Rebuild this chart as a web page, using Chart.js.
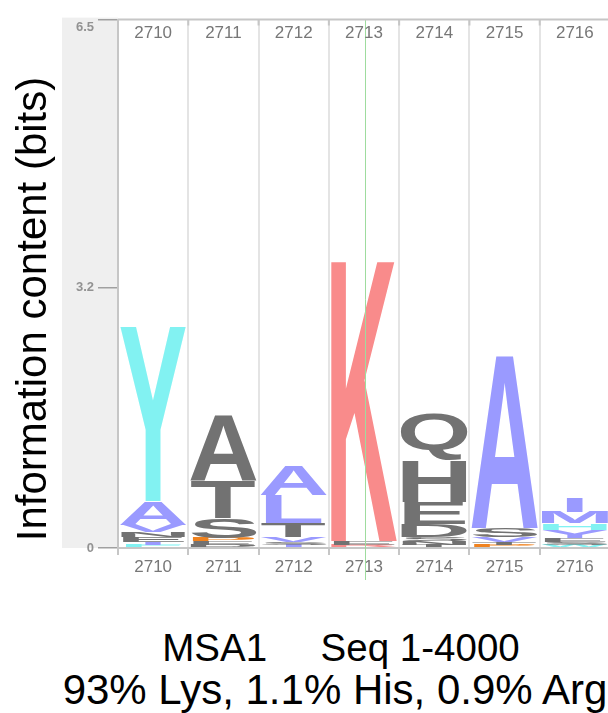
<!DOCTYPE html>
<html>
<head>
<meta charset="utf-8">
<script src="https://cdn.jsdelivr.net/npm/chart.js@4.4.1/dist/chart.umd.min.js"></script>
<style>
    html, body { margin: 0; padding: 0; background: #fff; overflow: hidden; }
    #wrap { position: relative; width: 608px; height: 713px; overflow: hidden; }
    #chartLogo { position: absolute; left: 0; top: 0; }
    .caption {
        position: absolute;
        width: 600px;
        text-align: center;
        font-family: 'Liberation Sans', Arial, sans-serif;
        line-height: 1;
        color: #000;
        white-space: pre;
    }
</style>
</head>
<body>
<div id="wrap">
    <canvas id="chartLogo" width="620" height="590"></canvas>
    <div class="caption" style="left: 41px; top: 629px; font-size: 38.5px">MSA1     Seq 1-4000</div>
    <div class="caption" style="left: 35px; top: 669px; font-size: 42px">93% Lys, 1.1% His, 0.9% Arg</div>
</div>
<script>
const positions = ['2710', '2711', '2712', '2713', '2714', '2715', '2716'];
const yTicks = [0, 3.2, 6.5];
const yTitle = 'Information content (bits)';

// each column: residues from the top of the stack down, their bits and colour class
const residues2710 = ['Y', 'A', 'V', 'N', 'E', 'I', 'F'];
const bits2710 = [2.15, 0.29, 0.085, 0.07, 0.06, 0.035, 0.035];
const classes2710 = ['aro', 'hyd', 'hyd', 'pol', 'pol', 'hyd', 'aro'];

const residues2711 = ['A', 'T', 'S', 'P', 'E', 'D'];
const bits2711 = [0.82, 0.46, 0.24, 0.04, 0.05, 0.035];
const classes2711 = ['pol', 'pol', 'pol', 'gly', 'pol', 'pol'];

const residues2712 = ['A', 'L', 'T', 'V', 'S', 'I'];
const bits2712 = [0.36, 0.34, 0.18, 0.06, 0.035, 0.035];
const classes2712 = ['hyd', 'hyd', 'pol', 'hyd', 'pol', 'hyd'];

const residues2713 = ['K', 'E', 'R'];
const bits2713 = [3.49, 0.05, 0.035];
const classes2713 = ['pos', 'pol', 'pos'];

const residues2714 = ['Q', 'H', 'E', 'D', 'S', 'N', 'T'];
const bits2714 = [0.57, 0.51, 0.27, 0.16, 0.05, 0.05, 0.035];
const classes2714 = ['pol', 'pol', 'pol', 'pol', 'pol', 'pol', 'pol'];

const residues2715 = ['A', 'S', 'V', 'T', 'P'];
const bits2715 = [2.135, 0.11, 0.06, 0.035, 0.035];
const classes2715 = ['hyd', 'pol', 'hyd', 'pol', 'gly'];

const residues2716 = ['I', 'M', 'H', 'Y', 'E', 'S', 'W'];
const bits2716 = [0.18, 0.135, 0.085, 0.1, 0.05, 0.035, 0.035];
const classes2716 = ['hyd', 'hyd', 'aro', 'hyd', 'pol', 'pol', 'aro'];

const palette = {
    hyd: '#9a9aff',
    aro: '#82f2f2',
    pos: '#f98b8b',
    pol: '#727272',
    gly: '#f0821e',
    tick: '#929292',
    label: '#777777',
    grid: '#e4e4e4',
    border: '#c6c6c6',
    panel: '#efefef',
    cursor: '#9edc9e',
};

const columns = [
    { residues: residues2710, bits: bits2710, classes: classes2710 },
    { residues: residues2711, bits: bits2711, classes: classes2711 },
    { residues: residues2712, bits: bits2712, classes: classes2712 },
    { residues: residues2713, bits: bits2713, classes: classes2713 },
    { residues: residues2714, bits: bits2714, classes: classes2714 },
    { residues: residues2715, bits: bits2715, classes: classes2715 },
    { residues: residues2716, bits: bits2716, classes: classes2716 },
];

// stack level 0 is the bottom letter of every column
function levelOf(col, level) {
    const i = col.residues.length - 1 - level;
    return i >= 0 ? i : -1;
}

const depth = Math.max(...columns.map((c) => c.residues.length));
const datasets = [];
for (let level = 0; level < depth; level++) {
    datasets.push({
        data: columns.map((c) => {
            const i = levelOf(c, level);
            return i >= 0 ? c.bits[i] : null;
        }),
        backgroundColor: 'rgba(0, 0, 0, 0)',
        borderWidth: 0,
        barPercentage: 0.95,
        categoryPercentage: 1,
    });
}

function drawGlyph(ctx, ch, color, cx, top, w, h) {
    if (h < 0.5) {
        return;
    }
    ctx.save();
    ctx.font = 'bold 100px "Liberation Sans", Arial, sans-serif';
    ctx.textAlign = 'left';
    ctx.textBaseline = 'alphabetic';
    const m = ctx.measureText(ch);
    const inkW = m.actualBoundingBoxLeft + m.actualBoundingBoxRight;
    const inkH = m.actualBoundingBoxAscent + m.actualBoundingBoxDescent;
    // wide letters fill the column, narrow ones (I, L) keep some of their shape
    const sx = w / Math.max(inkW, 62);
    const sy = h / inkH;
    ctx.translate(cx - (inkW * sx) / 2, top);
    ctx.scale(sx, sy);
    ctx.fillStyle = color;
    ctx.fillText(ch, m.actualBoundingBoxLeft, m.actualBoundingBoxAscent);
    ctx.restore();
}

const panelBackground = {
    id: 'panelBackground',
    beforeDraw(chart) {
        const { ctx, chartArea } = chart;
        ctx.save();
        ctx.fillStyle = palette.panel;
        ctx.fillRect(62, chartArea.top - 2, chartArea.left - 62, chartArea.bottom - chartArea.top + 2);
        ctx.restore();
    },
};

const logoLetters = {
    id: 'logoLetters',
    afterDatasetsDraw(chart) {
        const { ctx, chartArea } = chart;
        chart.data.datasets.forEach((ds, level) => {
            const meta = chart.getDatasetMeta(level);
            meta.data.forEach((bar, j) => {
                const i = levelOf(columns[j], level);
                if (i < 0) {
                    return;
                }
                const { x, y, base, width } = bar.getProps(['x', 'y', 'base', 'width'], true);
                const top = Math.min(y, base);
                const h = Math.abs(base - y);
                drawGlyph(ctx, columns[j].residues[i], palette[columns[j].classes[i]], x, top, width, h);
            });
        });

        // cursor line on the selected column
        const xs = chart.scales.x;
        const cx = Math.round(xs.getPixelForValue(3)) + 1.5;
        ctx.save();
        ctx.strokeStyle = palette.cursor;
        ctx.lineWidth = 1;
        ctx.beginPath();
        ctx.moveTo(cx, chartArea.top);
        ctx.lineTo(cx, chartArea.bottom + 32);
        ctx.stroke();
        ctx.restore();
    },
};

const topRuler = {
    id: 'topRuler',
    afterDraw(chart) {
        const { ctx, chartArea } = chart;
        const xs = chart.scales.x;
        ctx.save();
        ctx.strokeStyle = palette.border;
        ctx.lineWidth = 2;
        ctx.beginPath();
        ctx.moveTo(chartArea.left, chartArea.top);
        ctx.lineTo(chartArea.right, chartArea.top);
        ctx.stroke();

        const step = (chartArea.right - chartArea.left) / positions.length;
        ctx.beginPath();
        for (let k = 0; k <= positions.length; k++) {
            const gx = chartArea.left + k * step;
            ctx.moveTo(gx, chartArea.top);
            ctx.lineTo(gx, chartArea.top + 6);
        }
        ctx.stroke();

        ctx.fillStyle = palette.label;
        ctx.font = '17px "Liberation Sans", Arial, sans-serif';
        ctx.textAlign = 'center';
        ctx.textBaseline = 'middle';
        positions.forEach((p, k) => {
            ctx.fillText(p, xs.getPixelForValue(k), chartArea.top + 14);
        });

        // axis title
        ctx.fillStyle = '#000';
        ctx.font = '42px "Liberation Sans", Arial, sans-serif';
        ctx.textBaseline = 'alphabetic';
        ctx.translate(46, 309);
        ctx.rotate(-Math.PI / 2);
        ctx.fillText(yTitle, 0, 0);
        ctx.restore();
    },
};

new Chart(document.getElementById('chartLogo'), {
    type: 'bar',
    data: {
        labels: positions,
        datasets,
    },
    plugins: [panelBackground, logoLetters, topRuler],
    options: {
        responsive: false,
        animation: false,
        layout: {
            padding: { left: 0, right: 10, top: 16, bottom: 0 },
        },
        plugins: {
            legend: { display: false },
            tooltip: { enabled: false },
        },
        scales: {
            x: {
                stacked: true,
                afterFit: (scale) => { scale.height = 42; },
                ticks: {
                    color: palette.label,
                    font: { family: 'Liberation Sans', size: 17 },
                    padding: 2,
                    maxRotation: 0,
                    autoSkip: false,
                },
                grid: {
                    offset: true,
                    color: palette.grid,
                    lineWidth: 2,
                    drawTicks: true,
                    tickLength: 7,
                    tickColor: palette.border,
                },
                border: { display: true, color: palette.border, width: 2 },
            },
            y: {
                stacked: true,
                min: 0,
                max: 6.5,
                afterBuildTicks: (scale) => {
                    scale.ticks = yTicks.map((v) => ({ value: v }));
                },
                afterFit: (scale) => { scale.width = 118; },
                ticks: {
                    color: palette.tick,
                    font: { family: 'Liberation Sans', size: 13, weight: 'bold' },
                    padding: 4,
                    callback: (v) => (v === 6.5 ? ['', '6.5'] : String(v)),
                },
                grid: {
                    drawOnChartArea: false,
                    drawTicks: true,
                    tickLength: 20,
                    tickColor: '#a0a0a0',
                    lineWidth: 1.5,
                },
                border: { display: true, color: palette.border, width: 2 },
            },
        },
    },
});
</script>
</body>
</html>
